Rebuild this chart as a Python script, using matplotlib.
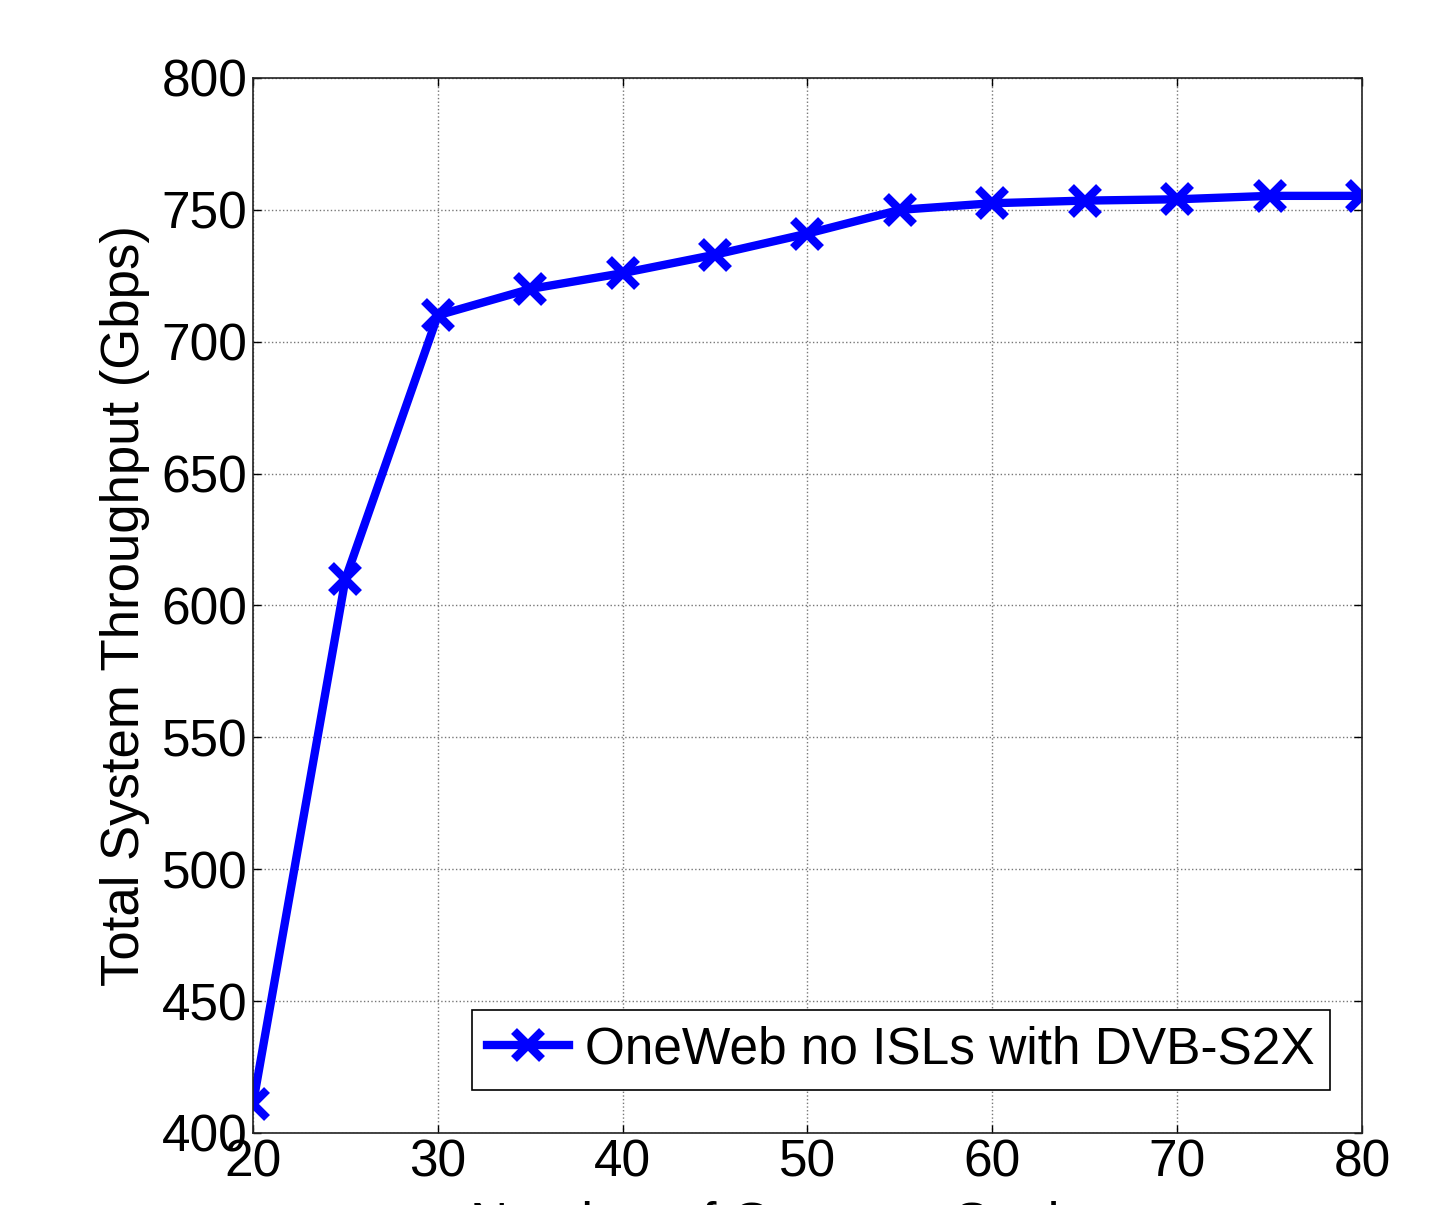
import matplotlib
matplotlib.use('Agg')
import matplotlib.pyplot as plt

# data
gateways = [20, 25, 30, 35, 40, 45, 50, 55, 60, 65, 70, 75, 80]
throughput = [411, 610, 710, 720, 726, 733, 741, 750, 752.5, 753.5, 754, 755.3, 755.3]
x_ticks = [20, 30, 40, 50, 60, 70, 80]
y_ticks = [400, 450, 500, 550, 600, 650, 700, 750, 800]

plt.rcParams['font.family'] = ['Liberation Sans', 'DejaVu Sans']

fig = plt.figure(figsize=(14.44, 12.05), dpi=100)
ax = fig.add_axes([0.1752, 0.0598, 0.768, 0.8755])

ax.plot(gateways, throughput, color='#0000ff', linewidth=6, marker='x',
        markersize=20, markeredgewidth=6, label='OneWeb no ISLs with DVB-S2X')

ax.set_xlim(20, 80)
ax.set_ylim(400, 800)
ax.set_xticks(x_ticks)
ax.set_yticks(y_ticks)
ax.tick_params(direction='in', top=True, right=True, length=6, width=1,
               labelsize=37, pad=4)
ax.grid(True, color='#777777', linestyle=':', linewidth=1)
for s in ax.spines.values():
    s.set_linewidth(1.2)
    s.set_color('#222222')

ax.set_xlabel('Number of Gateway Stations', fontsize=38, labelpad=10)
ax.set_ylabel('Total System Throughput (Gbps)', fontsize=38, labelpad=8)

leg = ax.legend(loc='lower right', bbox_to_anchor=(0.971, 0.041), fontsize=37,
                fancybox=False, framealpha=1, edgecolor='black',
                handlelength=1.6, handletextpad=0.3, borderpad=0.3,
                borderaxespad=0)
leg.get_frame().set_linewidth(1.2)

fig.savefig('out.png', dpi=100)
